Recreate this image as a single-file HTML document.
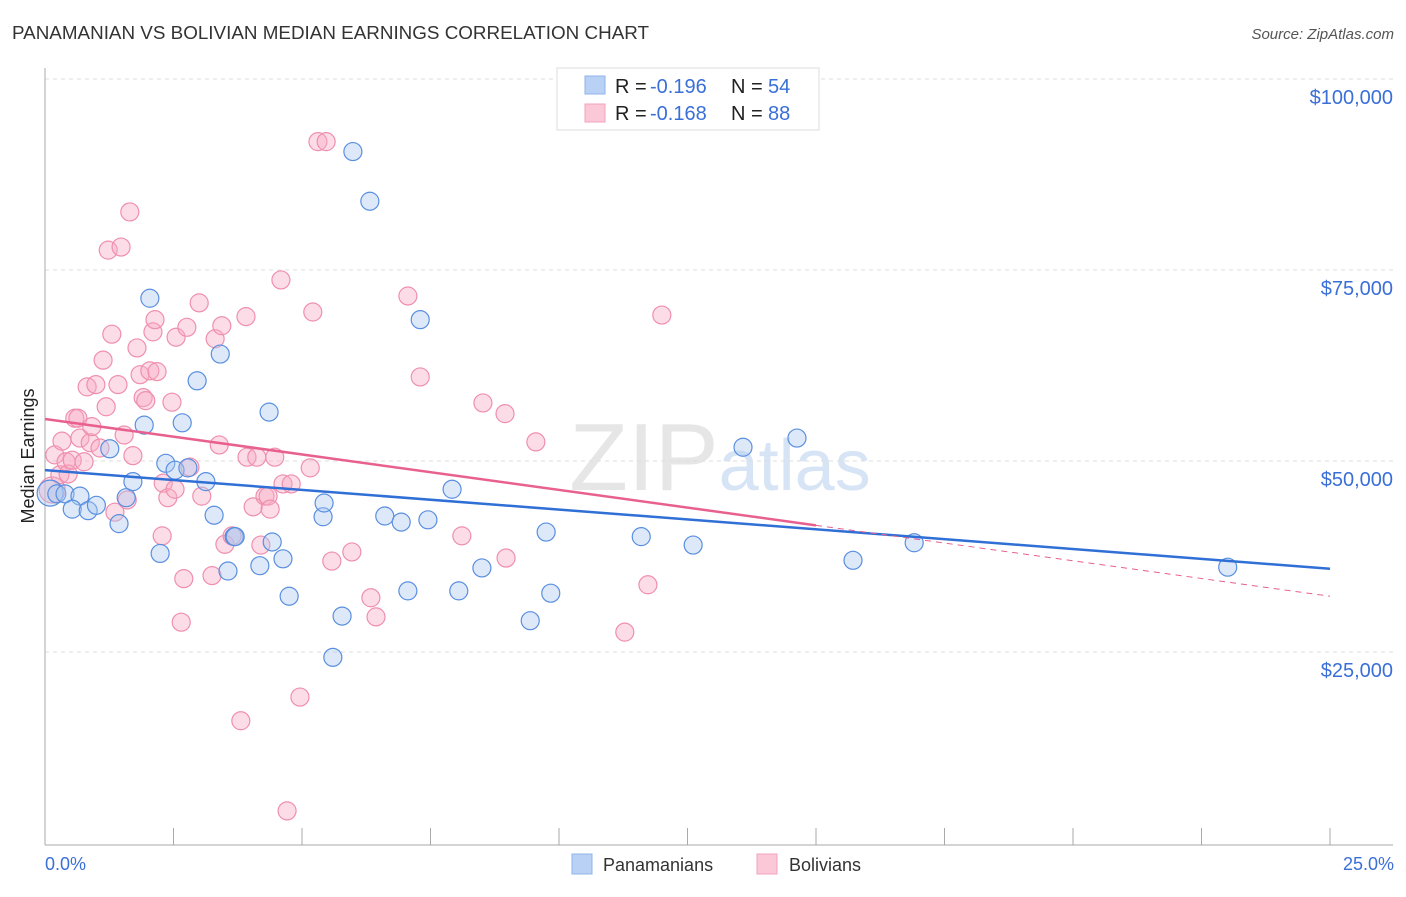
<!DOCTYPE html>
<html><head><meta charset="utf-8"><style>
body{margin:0;background:#fff;font-family:"Liberation Sans",sans-serif;}
svg text{font-family:"Liberation Sans",sans-serif;}
</style></head><body>
<svg id="chart" width="1406" height="892" xmlns="http://www.w3.org/2000/svg">
<text x="12" y="39" font-size="18" fill="#333" textLength="637" lengthAdjust="spacingAndGlyphs">PANAMANIAN VS BOLIVIAN MEDIAN EARNINGS CORRELATION CHART</text>
<text x="1394" y="39" font-size="15" fill="#555" text-anchor="end" font-style="italic">Source: ZipAtlas.com</text>
<text x="720" y="490" font-size="96" fill="#e6e6e6" text-anchor="middle" font-family="Liberation Serif">ZIP<tspan fill="#d6e4f5" font-family="Liberation Sans" font-size="72">atlas</tspan></text>
<g id="grid"></g><g id="axes"></g><g id="pts"></g><g id="lines"></g>
<text transform="translate(34,456) rotate(-90)" font-size="18" fill="#222" text-anchor="middle">Median Earnings</text>
<text x="45" y="870" font-size="18" fill="#3a6fd8">0.0%</text>
<text x="1394" y="870" font-size="18" fill="#3a6fd8" text-anchor="end">25.0%</text>
<g>
<rect x="557" y="68" width="262" height="62" fill="#fff" stroke="#ddd"/>
<rect x="585" y="76" width="20" height="18" fill="#b9d1f4" stroke="#8fb3ea"/>
<rect x="585" y="104" width="20" height="18" fill="#fbc8d8" stroke="#f2a2bc"/>
<text x="615" y="93" font-size="20" fill="#222">R =</text>
<text x="650" y="93" font-size="20" fill="#3a6fd8">-0.196</text>
<text x="731" y="93" font-size="20" fill="#222">N =</text>
<text x="768" y="93" font-size="20" fill="#3a6fd8">54</text>
<text x="615" y="120" font-size="20" fill="#222">R =</text>
<text x="650" y="120" font-size="20" fill="#3a6fd8">-0.168</text>
<text x="731" y="120" font-size="20" fill="#222">N =</text>
<text x="768" y="120" font-size="20" fill="#3a6fd8">88</text>
</g>
<g>
<rect x="572" y="854" width="20" height="20" fill="#b9d1f4" stroke="#8fb3ea"/>
<text x="603" y="871" font-size="18" fill="#333">Panamanians</text>
<rect x="757" y="854" width="20" height="20" fill="#fbc8d8" stroke="#f2a2bc"/>
<text x="789" y="871" font-size="18" fill="#333">Bolivians</text>
</g>
</svg>
<script>
const yTicks=[25000,50000,75000,100000];
const yTickLabels=["$25,000","$50,000","$75,000","$100,000"];
const xTicks=[0,2.5,5,7.5,10,12.5,15,17.5,20,22.5,25];
const blueX=[0.10,0.23,0.39,0.68,0.53,0.84,1.00,1.44,1.26,1.58,1.71,2.04,1.93,2.24,2.35,2.53,2.67,2.78,2.96,3.13,3.29,3.41,3.56,3.68,4.18,4.36,4.42,4.63,4.75,5.41,5.43,5.60,5.78,5.99,6.32,6.61,6.93,7.30,7.45,7.06,7.92,8.05,8.50,9.44,9.75,9.84,11.60,12.61,13.58,14.63,15.72,16.91,23.01,3.70];
const blueY=[45.8,45.7,45.7,45.4,43.7,43.5,44.2,41.8,51.6,45.2,47.3,71.3,54.7,37.9,49.7,48.8,55.0,49.1,60.5,47.3,42.9,64.0,35.6,40.1,36.3,56.4,39.4,37.2,32.3,42.7,44.5,24.3,29.7,90.5,84.0,42.8,42.0,68.5,42.3,33.0,46.3,33.0,36.0,29.1,40.7,32.7,40.1,39.0,51.8,53.0,37.0,39.3,36.1,40.1];
const pinkX=[0.14,0.19,0.29,0.33,0.41,0.45,0.53,0.58,0.64,0.68,0.76,0.88,0.91,0.82,0.99,1.07,1.13,1.19,1.23,1.30,1.36,1.42,1.48,1.54,1.60,1.65,1.71,1.79,1.85,1.91,1.96,2.04,2.10,2.14,2.18,2.28,2.30,2.39,2.47,2.53,2.55,2.65,2.70,2.76,2.82,3.00,3.05,3.25,3.31,3.39,3.44,3.50,3.64,3.81,3.91,3.93,4.05,4.12,4.20,4.28,4.34,4.38,4.47,4.59,4.63,4.79,4.96,5.16,5.21,5.31,5.47,5.58,5.97,6.34,6.44,7.06,7.30,8.11,8.52,8.95,8.97,9.55,11.28,11.73,12.00,4.71];
const pinkY=[46.2,50.8,48.2,52.6,49.9,48.3,50.1,55.6,55.6,53.0,49.9,52.4,54.5,59.7,60.0,51.7,63.2,57.1,77.6,66.6,43.3,60.0,78.0,53.4,44.9,82.6,50.7,64.8,61.3,58.3,57.9,61.8,66.9,68.5,61.7,40.2,47.1,45.2,57.7,46.3,66.2,28.9,34.6,67.5,49.2,70.7,45.4,35.0,66.0,52.1,67.7,39.1,40.2,16.0,68.9,50.5,44.0,50.5,39.0,45.4,45.4,43.7,50.5,73.7,47.0,47.0,19.1,49.1,69.5,91.8,91.8,36.9,38.1,32.1,29.6,71.6,61.0,40.2,57.6,56.2,37.3,52.5,27.6,33.8,69.1,4.2];
const blueTrend=[48.8,35.9];
const pinkTrend=[55.5,32.3];
const pinkSolidEnd=15;
const NS="http://www.w3.org/2000/svg";
const X=v=>45+v/25*1285, Y=v=>843-v/25000*191;
function mk(t,a,p){const e=document.createElementNS(NS,t);for(const k in a)e.setAttribute(k,a[k]);p.appendChild(e);return e;}
const grid=document.getElementById('grid'),axes=document.getElementById('axes'),pts=document.getElementById('pts'),lines=document.getElementById('lines');
yTicks.forEach((t,i)=>{
 const l=mk('line',{x1:45,x2:1393,y1:Y(t),y2:Y(t),stroke:'#ddd','stroke-dasharray':'4,4'},grid);
 
 
 const tx=mk('text',{x:1393,y:Y(t)+25,'font-size':20,fill:'#3a6fd8','text-anchor':'end'},grid);
 tx.textContent=yTickLabels[i];
 
 
});
const ya=mk('line',{x1:45,x2:45,y1:68,y2:845,stroke:'#aaa'},axes);


const xa=mk('line',{x1:45,x2:1393,y1:845,y2:845,stroke:'#aaa'},axes);


xTicks.forEach(t=>{const l=mk('line',{x1:X(t),x2:X(t),y1:828,y2:845,stroke:'#aaa'},axes);
 
 });
function dots(xs,ys,fill,stroke,name){xs.forEach((x,i)=>{
 const c=mk('circle',{cx:X(x),cy:Y(ys[i]*1000),r:(i==0?13:9),fill:fill,'fill-opacity':0.4,stroke:stroke,'stroke-width':1.2},pts);
 
 });}
dots(pinkX,pinkY,'#f7aac2','#ef8fae','bolivian-point');
dots(blueX,blueY,'#a9c7f0','#5a8fe0','panamanian-point');
const bl=mk('line',{x1:X(0),y1:Y(blueTrend[0]*1000),x2:X(25),y2:Y(blueTrend[1]*1000),stroke:'#2f6fd6','stroke-width':2.5},lines);


const pm=pinkTrend[0]+(pinkTrend[1]-pinkTrend[0])*pinkSolidEnd/25;
const pl=mk('line',{x1:X(0),y1:Y(pinkTrend[0]*1000),x2:X(pinkSolidEnd),y2:Y(pm*1000),stroke:'#e8608e','stroke-width':2.5},lines);


const pd=mk('line',{x1:X(pinkSolidEnd),y1:Y(pm*1000),x2:X(25),y2:Y(pinkTrend[1]*1000),stroke:'#e8608e','stroke-width':1,'stroke-dasharray':'6,5'},lines);


</script>
</body></html>
